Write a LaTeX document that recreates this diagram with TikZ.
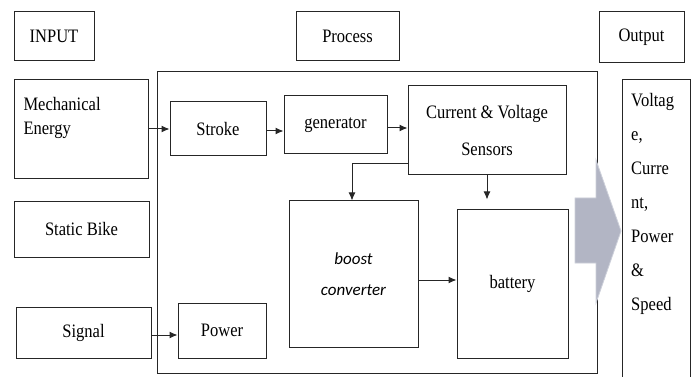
\documentclass[tikz,border=0pt]{standalone}
\usepackage{fontspec}
\setmainfont{Liberation Serif}[FakeStretch=0.87]
\newfontfamily\itfont{Carlito}
\usetikzlibrary{arrows.meta}
\begin{document}
\begin{tikzpicture}[x=1pt,y=-1pt,
  box/.style={draw=black!85, line width=1pt, inner sep=0pt, align=center,
    font=\fontsize{19}{23}\selectfont},
  arr/.style={draw=black!85, line width=1pt, -{Latex[length=8pt,width=7pt]}},
  bigarrow/.style={fill={rgb,255:red,178;green,181;blue,196}, draw={rgb,255:red,205;green,208;blue,218}, line width=0.8pt}
]
\useasboundingbox (0,0) rectangle (694,377);
\fill[white] (0,0) rectangle (694,377);

% header boxes
\node[box, minimum width=80pt, minimum height=49pt] (input) at (54,36.5) {INPUT};
\node[box, minimum width=103pt, minimum height=49pt] (process) at (347.5,36.5) {Process};
\node[box, minimum width=85pt, minimum height=51pt] (output) at (641.5,37.5) {Output};

% container
\node[box, minimum width=440pt, minimum height=301pt] (cont) at (377,222.5) {};

% inputs
\node[box, minimum width=134pt, minimum height=99pt] (mech) at (81,129.5) {};
\node[box, anchor=north west, align=left, font=\fontsize{19}{24}\selectfont, draw=none] (mechtxt) at (23,97) {Mechanical\\Energy};
\node[box, minimum width=135pt, minimum height=55pt] (static) at (81.5,229.5) {Static Bike};
\node[box, minimum width=135pt, minimum height=51pt] (signal) at (83.5,332.5) {Signal};

% process blocks
\node[box, minimum width=96pt, minimum height=54pt] (stroke) at (218,129) {Stroke};
\node[box, minimum width=103pt, minimum height=58pt] (gen) at (335.5,125) {generator};
\node[box, minimum width=158pt, minimum height=89pt, font=\fontsize{19}{37}\selectfont] (sens) at (487,130.5) {Current \& Voltage\\Sensors};
\node[box, minimum width=88pt, minimum height=55pt] (power) at (222,330.5) {Power};
\node[box, minimum width=129pt, minimum height=146pt, font=\itfont\itshape\fontsize{17}{31}\selectfont] (boost) at (353.5,274) {boost\\converter};
\node[box, minimum width=111pt, minimum height=148pt] (bat) at (512.5,284) {battery};

% output values
\node[box, minimum width=68pt, minimum height=300pt] (outv) at (656,230) {};
\node[anchor=north west, align=left, inner sep=0pt, font=\fontsize{19}{34}\selectfont] (outtxt) at (631,93) {Voltag\\e,\\Curre\\nt,\\Power\\\&\\Speed};

% connectors
\draw[arr] (mech.east |- stroke.west) -- (stroke.west);
\draw[arr] ([yshift=-2pt]stroke.east) -- ([yshift=-2pt]stroke.east -| gen.west);
\draw[arr] ([yshift=-3pt]gen.east) -- ([yshift=-3pt]gen.east -| sens.west);
\draw[arr] ([yshift=-33.5pt]sens.west) -| ([xshift=-1.5pt]boost.north);
\draw[arr, shorten >=10pt] (sens.south) -- (sens.south |- bat.north);
\draw[arr] ([yshift=-6pt]boost.east) -- ([yshift=-6pt]boost.east -| bat.west);
\draw[arr] ([yshift=-2.5pt]signal.east) -- ([yshift=-2.5pt]signal.east -| power.west);

% big block arrow from process to output
\draw[bigarrow] (575,198) -- (596,198) -- (596,160) -- (621,231) -- (596,303) -- (596,263) -- (575,263) -- cycle;
\end{tikzpicture}
\end{document}
